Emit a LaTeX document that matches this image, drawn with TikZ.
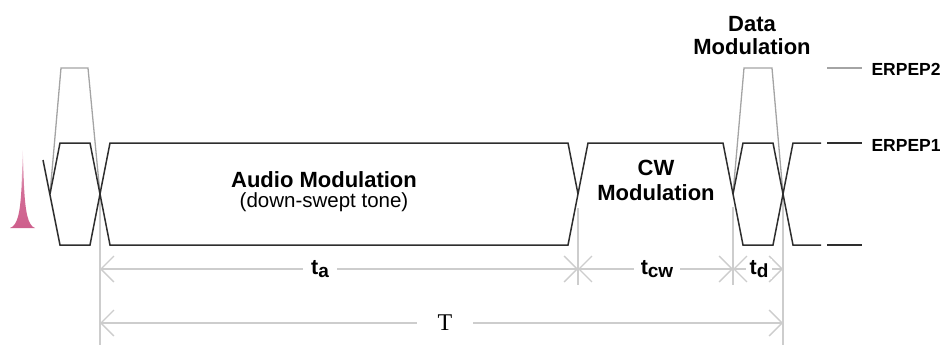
\documentclass[tikz,border=0pt]{standalone}
\usepackage{fontspec}
\setmainfont{Liberation Sans}
\newfontfamily\serifface{Liberation Serif}
\usetikzlibrary{arrows.meta}
\definecolor{sig}{HTML}{2E2E2E}
\definecolor{peakgrey}{HTML}{A4A4A4}
\definecolor{dimgrey}{HTML}{CDCDCD}
\definecolor{spike}{HTML}{CE5F8C}
\newcommand\durlabel[2]{#1\raisebox{-3pt}{\fontsize{19}{19}\selectfont #2}}
\begin{document}
\begin{tikzpicture}[x=1pt,y=-1pt,
  level1/.style={draw=sig,line width=1.5pt,line join=miter},
  level2/.style={draw=peakgrey,line width=1.3pt},
  extline/.style={draw=dimgrey,line width=1.4pt},
  barb/.tip={Straight Barb[length=13pt,width=26pt]},
  dimline/.style={draw=dimgrey,line width=1.3pt,barb-barb},
  dimlabel/.style={fill=white,inner xsep=7pt,inner ysep=1pt,
    font=\fontsize{21.5}{22}\selectfont\bfseries},
  title/.style={font=\fontsize{22}{25}\selectfont\bfseries,anchor=base},
  subtitle/.style={font=\fontsize{20.5}{23}\selectfont,anchor=base},
  legend/.style={font=\fontsize{17.5}{18}\selectfont\bfseries,anchor=base west}]
\useasboundingbox (0,0) rectangle (940,345);

% marker spike at the left edge, fading towards its thin tip
\shade[top color=spike!20, bottom color=spike, middle color=spike!90]
  (10,228) .. controls (18,225.5) and (20.3,211) .. (21.6,186)
  -- (22.8,150) -- (24,186)
  .. controls (25.3,211) and (27.6,225.5) .. (35,228) -- cycle;

% reference points of the time axis
\coordinate (s0) at (100,198);  \coordinate (e0) at (100,345);
\coordinate (s1) at (578,208);  \coordinate (e1) at (578,285);
\coordinate (s2) at (733,207);  \coordinate (e2) at (733,285);
\coordinate (s3) at (783,198);  \coordinate (e3) at (783,345);
\coordinate (a0) at (100,269);  \coordinate (a1) at (578,269);
\coordinate (a2) at (733,269);  \coordinate (a3) at (783,269);
\coordinate (b0) at (100,323);  \coordinate (b1) at (783,323);

% extension lines
\draw[extline] (s0) -- (e0);
\draw[extline] (s1) -- (e1);
\draw[extline] (s2) -- (e2);
\draw[extline] (s3) -- (e3);

% dimension lines
\draw[dimline] (a0) -- (a1);
\draw[dimline] (a1) -- (a2);
\draw[dimline] (a2) -- (a3);
\draw[dimline] (b0) -- (b1);

\node[dimlabel,inner xsep=8pt] (ta) at (320,269) {\durlabel{t}{a}};
\node[dimlabel] (tcw) at (657,269) {\durlabel{t}{cw}};
\node[dimlabel,inner xsep=4pt] (td) at (759,269) {\durlabel{t}{d}};
\node[fill=white,inner xsep=21pt,inner ysep=1pt,
  font=\serifface\fontsize{24}{24}\selectfont] (tT) at (445,323) {T};

% ERPEP2 peaks
\draw[level2] (50,194) -- (61,68) -- (88,68) -- (100,194);
\draw[level2] (733,194) -- (744,68) -- (772,68) -- (783,194);
\draw[level2] (827,68) -- (862,68);

% ERPEP1 envelope
\draw[level1] (43,160) -- (60,245) -- (90,245) -- (110,143) -- (568,143) -- (578,194);
\draw[level1] (50,194) -- (60,143) -- (90,143) -- (110,245) -- (568,245) -- (588,143)
  -- (723,143) -- (743,245) -- (773,245) -- (793,143) -- (821,143);
\draw[level1] (733,194) -- (743,143) -- (773,143) -- (793,245) -- (821,245);
\draw[level1] (827,143) -- (862,143);
\draw[level1] (827,245) -- (862,245);

% section titles
\node[title] (audio) at (324,187) {Audio Modulation};
\node[subtitle] (tone) at (324,207) {(down-swept tone)};
\node[title] (cw1) at (656,175) {CW};
\node[title] (cw2) at (656,200) {Modulation};
\node[title] (data1) at (752,32) {Data};
\node[title] (data2) at (752,55) {Modulation};

% legend
\node[legend] (lg2) at (868,76) {ERPEP2};
\node[legend] (lg1) at (868,151) {ERPEP1};
\end{tikzpicture}
\end{document}
